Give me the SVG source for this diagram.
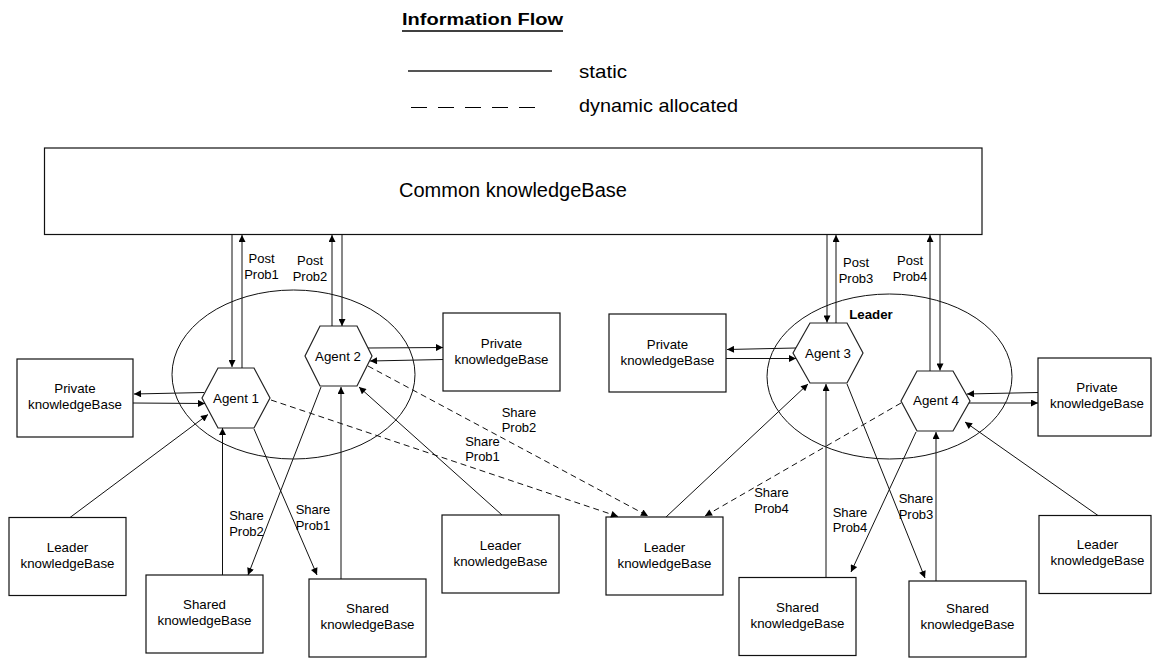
<svg xmlns="http://www.w3.org/2000/svg" width="1152" height="658" viewBox="0 0 1152 658">
<style>
text{font-family:"Liberation Sans",Arial,sans-serif;fill:#000}
.t{font-size:13.3px;text-anchor:middle}
.lbl{font-size:13px;text-anchor:middle}
.box{fill:#fff;stroke:#111;stroke-width:1.2}
.hex{fill:#fff;stroke:#222;stroke-width:1.2}
.ell{fill:none;stroke:#111;stroke-width:1}
.c{stroke:#111;stroke-width:1;fill:none;marker-end:url(#ah)}
.d{stroke:#111;stroke-width:1;fill:none;stroke-dasharray:6 4;marker-end:url(#ah)}
</style>
<defs>
<marker id="ah" viewBox="0 0 10 10" refX="10" refY="5" markerWidth="9" markerHeight="7" markerUnits="userSpaceOnUse" orient="auto">
<path d="M0,0 L10,5 L0,10 z" fill="#000"/>
</marker>
</defs>
<rect width="1152" height="658" fill="#fff"/>
<g id="legend">
<text x="402" y="25" font-size="16" font-weight="bold" textLength="161" lengthAdjust="spacingAndGlyphs">Information Flow</text>
<line x1="402" y1="31" x2="563" y2="31" stroke="#000" stroke-width="1.3"/>
<line x1="408" y1="71" x2="552" y2="71" stroke="#555" stroke-width="2"/>
<text x="579" y="77.5" font-size="19" textLength="48" lengthAdjust="spacingAndGlyphs">static</text>
<line x1="411" y1="107.5" x2="536" y2="107.5" stroke="#000" stroke-width="1.2" stroke-dasharray="16 11"/>
<text x="579" y="111.5" font-size="19" textLength="159" lengthAdjust="spacingAndGlyphs">dynamic allocated</text>
</g>
<g id="common-kb">
<rect class="box" x="44.5" y="148" width="937.5" height="86.5"/>
<text x="513" y="197" font-size="20" text-anchor="middle">Common knowledgeBase</text>
</g>
<g id="group-left"><ellipse class="ell" cx="293.5" cy="374.5" rx="121.5" ry="84.5"/></g>
<g id="group-right"><ellipse class="ell" cx="889.5" cy="376.5" rx="122.5" ry="82.5"/>
<text x="871" y="319" font-size="13.3" font-weight="bold" text-anchor="middle">Leader</text></g>
<g id="agent1"><polygon class="hex" points="202,398 218,368 254,368 270,398 254,428 218,428"/><text class="t" x="236" y="402.5">Agent 1</text></g>
<g id="agent2"><polygon class="hex" points="305,356 320,326 357,326 372,356 357,386 320,386"/><text class="t" x="338" y="360.5">Agent 2</text></g>
<g id="agent3"><polygon class="hex" points="793,353 810,323 847,323 863,353 847,383 810,383"/><text class="t" x="828" y="357.5">Agent 3</text></g>
<g id="agent4"><polygon class="hex" points="901,401 917,371 953,371 970,401 953,431 917,431"/><text class="t" x="936" y="405">Agent 4</text></g>
<g id="private1"><rect class="box" x="17" y="359" width="116" height="78"/><text class="t" x="75" y="392.5">Private</text><text class="t" x="75" y="409">knowledgeBase</text></g>
<g id="private2"><rect class="box" x="443" y="313" width="117" height="78"/><text class="t" x="501.5" y="347.5">Private</text><text class="t" x="501.5" y="363.5">knowledgeBase</text></g>
<g id="private3"><rect class="box" x="609" y="314" width="117" height="78"/><text class="t" x="667.5" y="348.5">Private</text><text class="t" x="667.5" y="364.5">knowledgeBase</text></g>
<g id="private4"><rect class="box" x="1038" y="358" width="113" height="78"/><text class="t" x="1097" y="391.5">Private</text><text class="t" x="1097" y="407.5">knowledgeBase</text></g>
<g id="leader1"><rect class="box" x="9" y="517.5" width="117" height="78"/><text class="t" x="67.5" y="551.5">Leader</text><text class="t" x="67.5" y="567.5">knowledgeBase</text></g>
<g id="shared1"><rect class="box" x="146" y="575" width="117" height="78"/><text class="t" x="204.5" y="608.5">Shared</text><text class="t" x="204.5" y="625">knowledgeBase</text></g>
<g id="shared2"><rect class="box" x="309" y="579" width="117" height="78"/><text class="t" x="367.5" y="612.5">Shared</text><text class="t" x="367.5" y="629">knowledgeBase</text></g>
<g id="leader2"><rect class="box" x="442" y="515" width="117" height="78"/><text class="t" x="500.5" y="549.5">Leader</text><text class="t" x="500.5" y="565.5">knowledgeBase</text></g>
<g id="leader3"><rect class="box" x="606" y="517" width="117" height="78"/><text class="t" x="664.5" y="551.5">Leader</text><text class="t" x="664.5" y="567.5">knowledgeBase</text></g>
<g id="shared3"><rect class="box" x="739" y="577.5" width="117" height="78"/><text class="t" x="797.5" y="611.5">Shared</text><text class="t" x="797.5" y="627.5">knowledgeBase</text></g>
<g id="shared4"><rect class="box" x="909" y="581" width="117" height="76"/><text class="t" x="967.5" y="613">Shared</text><text class="t" x="967.5" y="629">knowledgeBase</text></g>
<g id="leader4"><rect class="box" x="1039" y="515.5" width="112" height="78"/><text class="t" x="1097.5" y="548.5">Leader</text><text class="t" x="1097.5" y="564.5">knowledgeBase</text></g>
<g id="connectors">
<line class="c" x1="232" y1="235" x2="232" y2="367"/>
<line class="c" x1="242" y1="368" x2="242" y2="235"/>
<line class="c" x1="332" y1="326" x2="332" y2="235"/>
<line class="c" x1="342" y1="235" x2="342" y2="326"/>
<line class="c" x1="827" y1="235" x2="827" y2="322.5"/>
<line class="c" x1="836" y1="323" x2="836" y2="235"/>
<line class="c" x1="930" y1="371" x2="930" y2="235"/>
<line class="c" x1="940" y1="235" x2="940" y2="370.5"/>
<line class="c" x1="204" y1="392.5" x2="134" y2="394"/>
<line class="c" x1="133" y1="403" x2="205" y2="403.5"/>
<line class="c" x1="368" y1="348" x2="443" y2="347.5"/>
<line class="c" x1="443" y1="359.5" x2="370" y2="361"/>
<line class="c" x1="796" y1="348" x2="727" y2="349.5"/>
<line class="c" x1="726" y1="358.5" x2="796" y2="358.5"/>
<line class="c" x1="1038" y1="392.5" x2="967" y2="394"/>
<line class="c" x1="969" y1="403" x2="1038" y2="403"/>
<line class="c" x1="70" y1="517.5" x2="208" y2="414.5"/>
<line class="c" x1="222.5" y1="575" x2="222.5" y2="428"/>
<line class="c" x1="254" y1="429" x2="317" y2="575"/>
<line class="c" x1="321" y1="387" x2="248" y2="575"/>
<line class="c" x1="341" y1="579" x2="341" y2="387"/>
<line class="c" x1="502" y1="515" x2="359" y2="387"/>
<line class="d" x1="271" y1="400" x2="618" y2="516.5"/>
<line class="d" x1="368" y1="366" x2="648" y2="516"/>
<line class="d" x1="901" y1="403" x2="705" y2="516"/>
<line class="c" x1="666" y1="517" x2="808" y2="384"/>
<line class="c" x1="826" y1="577.5" x2="826" y2="384"/>
<line class="c" x1="847" y1="384" x2="925" y2="578"/>
<line class="c" x1="916" y1="432" x2="851" y2="572"/>
<line class="c" x1="936" y1="581" x2="936" y2="432"/>
<line class="c" x1="1098" y1="515.5" x2="965" y2="422"/>
<text class="lbl" x="261.5" y="262.5">Post</text><text class="lbl" x="261.5" y="278.5">Prob1</text>
<text class="lbl" x="310" y="265">Post</text><text class="lbl" x="310" y="281">Prob2</text>
<text class="lbl" x="856" y="266.5">Post</text><text class="lbl" x="856" y="283">Prob3</text>
<text class="lbl" x="910" y="265">Post</text><text class="lbl" x="910" y="281">Prob4</text>
<text class="lbl" x="519" y="416.5">Share</text><text class="lbl" x="519" y="432">Prob2</text>
<text class="lbl" x="482.5" y="445.5">Share</text><text class="lbl" x="482.5" y="461">Prob1</text>
<text class="lbl" x="771.5" y="497">Share</text><text class="lbl" x="771.5" y="513">Prob4</text>
<text class="lbl" x="246.5" y="520">Share</text><text class="lbl" x="246.5" y="536">Prob2</text>
<text class="lbl" x="313" y="514">Share</text><text class="lbl" x="313" y="530">Prob1</text>
<text class="lbl" x="916" y="503">Share</text><text class="lbl" x="916" y="519">Prob3</text>
<text class="lbl" x="850" y="516.5">Share</text><text class="lbl" x="850" y="532">Prob4</text>
</g>
</svg>
